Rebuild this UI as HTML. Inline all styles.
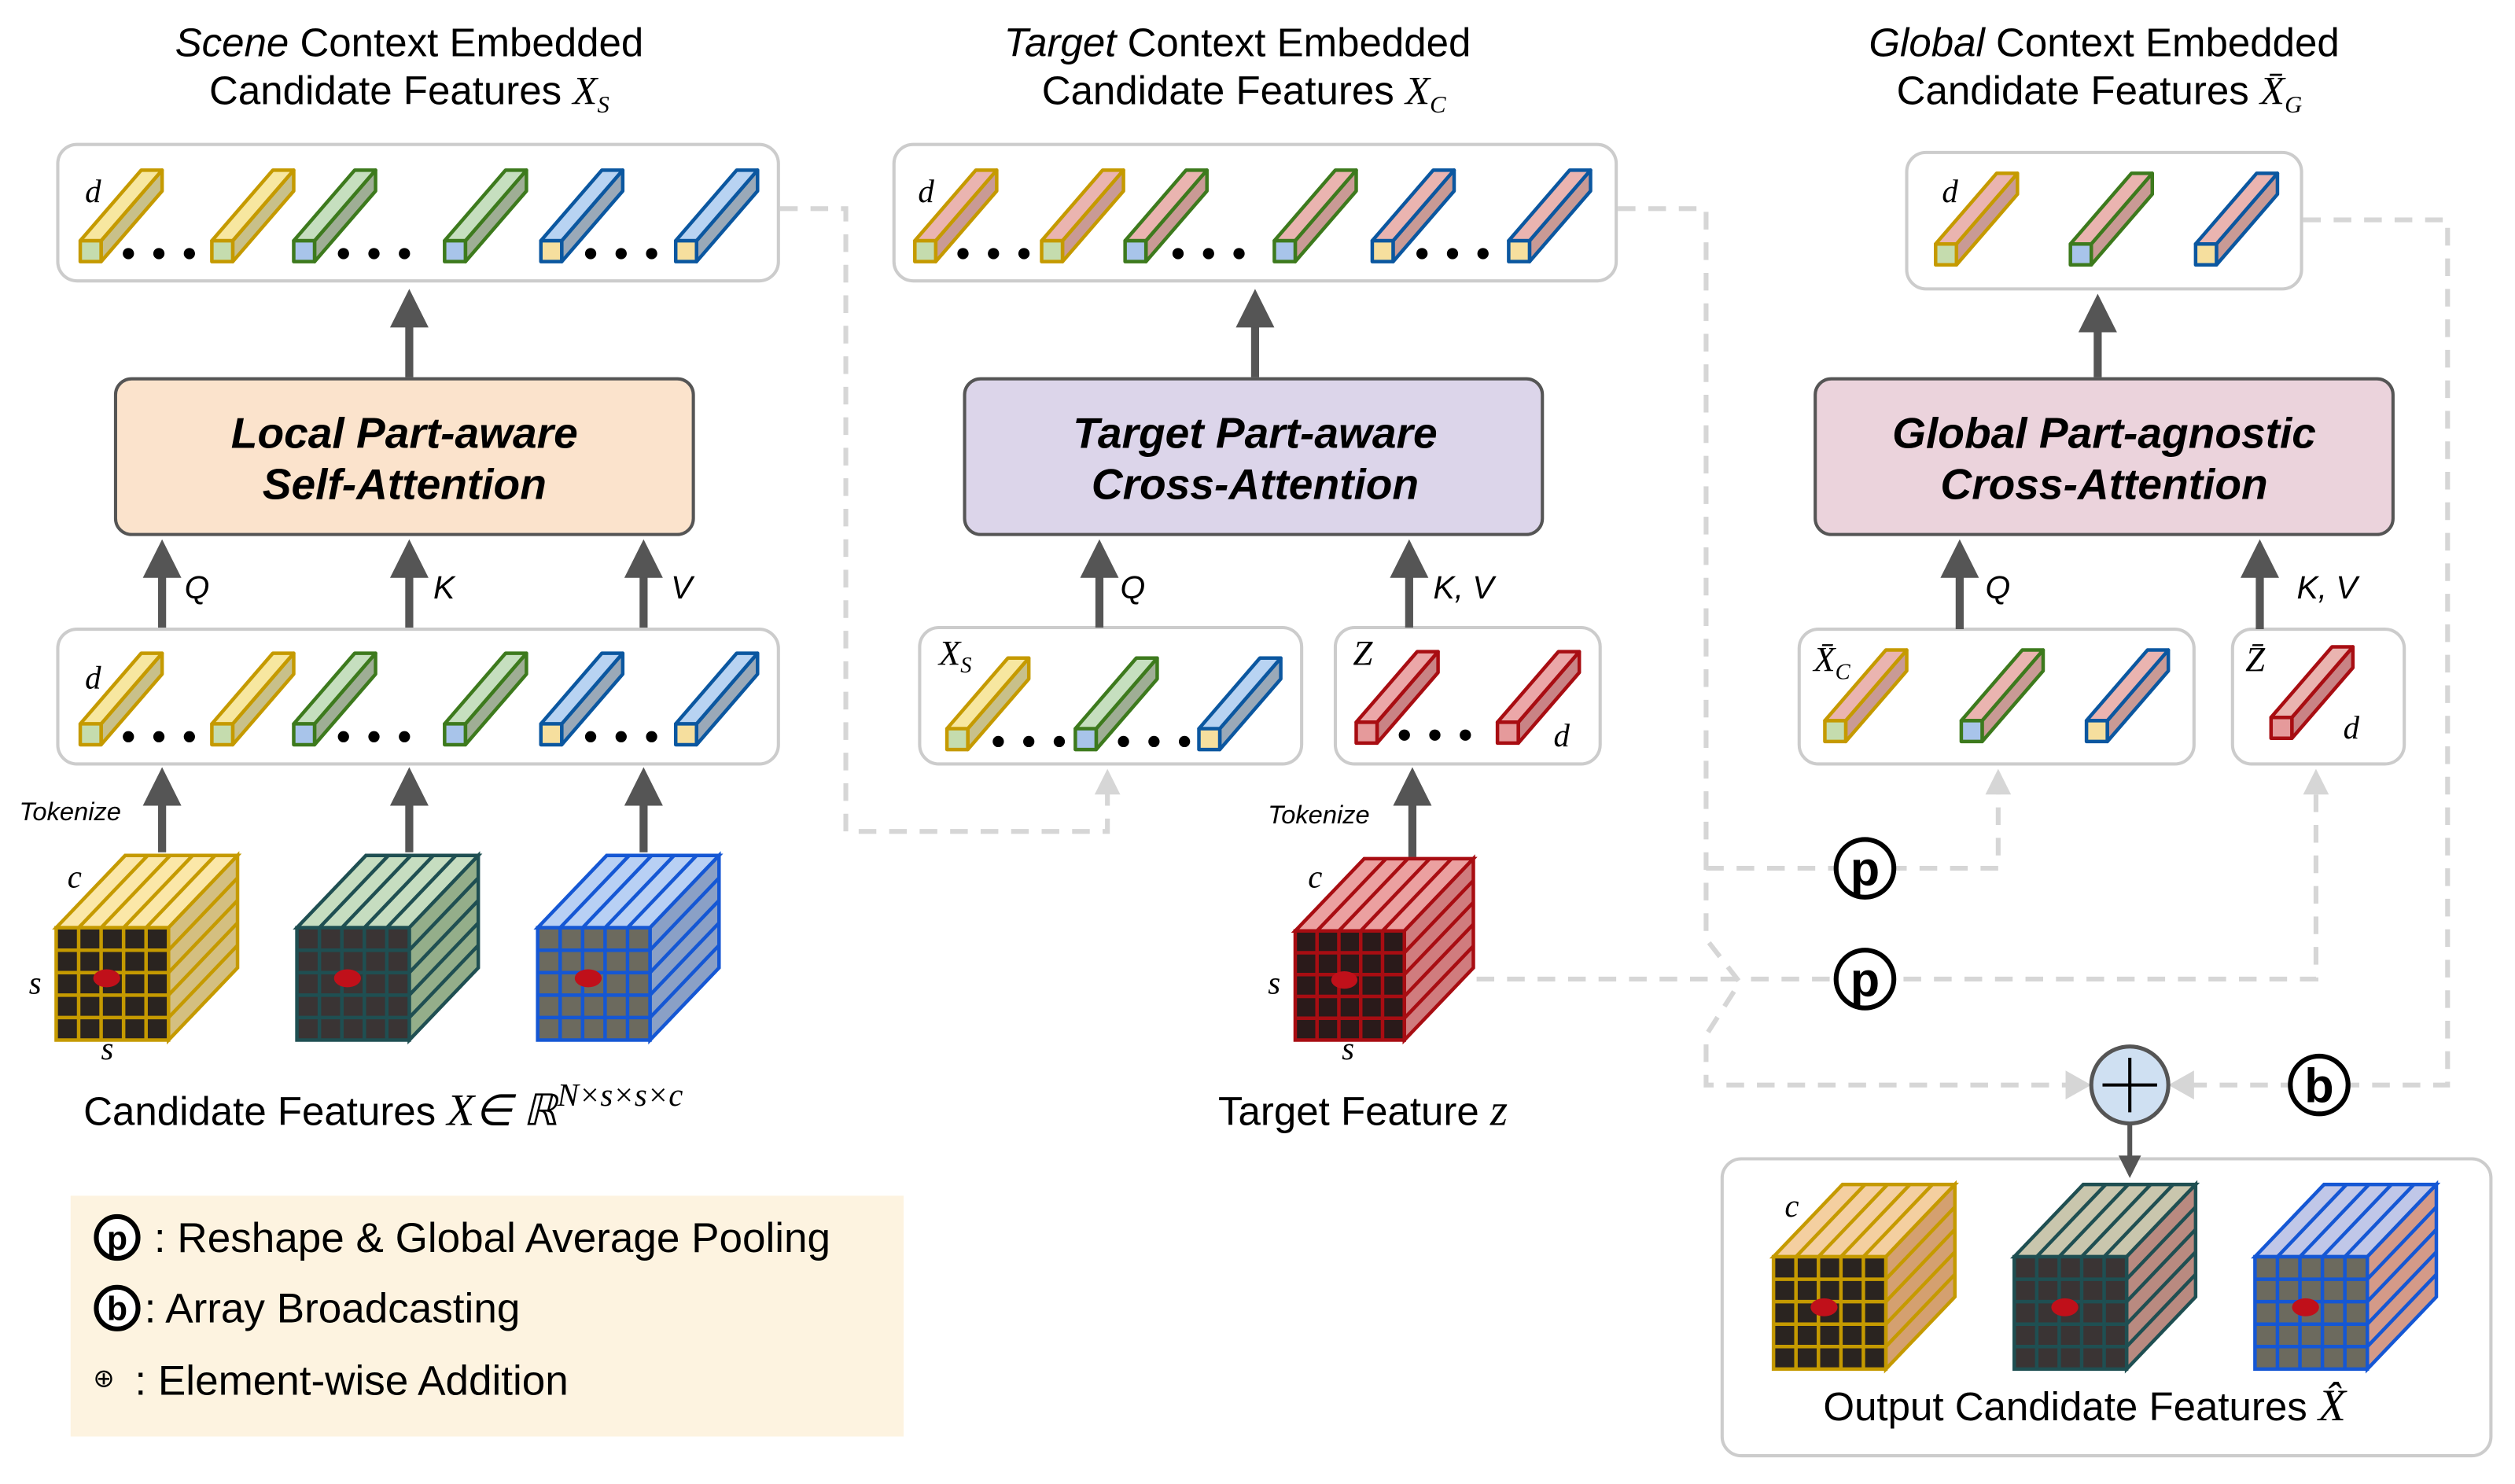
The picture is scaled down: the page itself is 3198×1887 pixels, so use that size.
<!DOCTYPE html>
<html><head><meta charset="utf-8"><style>
html,body{margin:0;padding:0;background:#fff}
svg{display:block}
text{font-family:"Liberation Sans",sans-serif;fill:#000}
.m{font-family:"Liberation Serif",serif;font-style:italic}
.b{font-weight:bold;font-style:italic;font-size:27px;text-anchor:middle}
</style></head><body>
<svg id="s" width="3198" height="1887" viewBox="0 0 1567 924.6" preserveAspectRatio="none" xmlns="http://www.w3.org/2000/svg">
<g id="bg"></g>
<g id="shapes"></g>
<text x="255" y="35" font-size="25" text-anchor="middle"><tspan font-style="italic">Scene</tspan> Context Embedded</text>
<text x="255" y="65" font-size="25" text-anchor="middle">Candidate Features <tspan class="m">X</tspan><tspan class="m" font-size="15" dy="5">S</tspan></text>
<text x="771" y="35" font-size="25" text-anchor="middle"><tspan font-style="italic">Target</tspan> Context Embedded</text>
<text x="775" y="65" font-size="25" text-anchor="middle">Candidate Features <tspan class="m">X</tspan><tspan class="m" font-size="15" dy="5">C</tspan></text>
<text x="1311" y="35" font-size="25" text-anchor="middle"><tspan font-style="italic">Global</tspan> Context Embedded</text>
<text x="1308" y="65" font-size="25" text-anchor="middle">Candidate Features <tspan class="m">X̄</tspan><tspan class="m" font-size="15" dy="5">G</tspan></text>
<text class="b" x="252" y="279">Local Part-aware</text><text class="b" x="252" y="311">Self-Attention</text>
<text class="b" x="782" y="279">Target Part-aware</text><text class="b" x="782" y="311">Cross-Attention</text>
<text class="b" x="1311" y="279">Global Part-agnostic</text><text class="b" x="1311" y="311">Cross-Attention</text>
<g font-size="20" font-style="italic">
<text x="115" y="373">Q</text><text x="270" y="373">K</text><text x="418" y="373">V</text>
<text x="698" y="373">Q</text><text x="893" y="373">K, V</text>
<text x="1237" y="373">Q</text><text x="1431" y="373">K, V</text>
</g>
<g font-size="16" font-style="italic"><text x="12" y="511">Tokenize</text><text x="790" y="513">Tokenize</text></g>
<g>
<text class="m" x="53" y="126" font-size="20" fill="#777">d</text><text class="m" x="572" y="126" font-size="20" fill="#777">d</text><text class="m" x="1210" y="126" font-size="20" fill="#777">d</text>
<text class="m" x="53" y="429" font-size="20" fill="#777">d</text><text class="m" x="968" y="465" font-size="20" fill="#777">d</text><text class="m" x="1460" y="460" font-size="20" fill="#777">d</text>
<text class="m" x="42" y="553" font-size="20" fill="#555">c</text><text class="m" x="18" y="619" font-size="20" fill="#555">s</text><text class="m" x="63" y="660" font-size="20" fill="#555">s</text>
<text class="m" x="815" y="553" font-size="20" fill="#555">c</text><text class="m" x="790" y="619" font-size="20" fill="#555">s</text><text class="m" x="836" y="660" font-size="20" fill="#555">s</text>
<text class="m" x="1112" y="758" font-size="20" fill="#555">c</text>
</g>
<text class="m" x="585" y="414" font-size="22">X<tspan font-size="14" dy="5">S</tspan></text>
<text class="m" x="843" y="414" font-size="22">Z</text>
<text class="m" x="1130" y="418" font-size="22">X̄<tspan font-size="14" dy="5">C</tspan></text>
<text class="m" x="1399" y="418" font-size="22">Z̄</text>
<text x="52" y="701" font-size="25">Candidate Features <tspan class="m" font-size="28">X</tspan><tspan class="m" font-size="27">∈ ℝ</tspan><tspan class="m" font-size="20" dy="-12">N×s×s×c</tspan></text>
<text x="759" y="701" font-size="25">Target Feature <tspan class="m" font-size="28">z</tspan></text>
<text x="1136" y="885" font-size="25">Output Candidate Features <tspan class="m" font-size="28">X̂</tspan></text>
<g font-size="26">
<text x="96" y="780">: Reshape &amp; Global Average Pooling</text>
<text x="90" y="824">: Array Broadcasting</text>
<text x="84" y="869">: Element-wise Addition</text>
<text x="58" y="864" font-size="16">⊕</text>
</g>
<g id="circ"></g>
</svg>
<script>
const NS="http://www.w3.org/2000/svg";
const bg=document.getElementById('bg'),sh=document.getElementById('shapes'),ci=document.getElementById('circ');
function el(p,t,a,txt){const e=document.createElementNS(NS,t);for(const k in a)e.setAttribute(k,a[k]);if(txt)e.textContent=txt;p.appendChild(e);return e;}
function rect(x,y,w,h,a){return el(sh,'rect',Object.assign({x,y,width:w,height:h},a));}
el(bg,'rect',{x:44,y:745,width:519,height:150,fill:'#fdf3e0'});
const D={fill:'none',stroke:'#d6d6d6','stroke-width':3,'stroke-dasharray':'11 8'};
function pl(pts){el(bg,'polyline',Object.assign({points:pts},D));}
pl('486,130 527,130 527,518 690,518 690,494');
pl('1008,130 1063,130 1063,585 1084,612 1063,645 1063,676 1290,676');
pl('1063,541 1245,541 1245,494');
pl('920,610 1443,610 1443,494');
pl('1435,137 1525,137 1525,676 1362,676');
function gtri(x,y,dir){
 let p; if(dir=='u')p=`${x-8},${y+16} ${x},${y} ${x+8},${y+16}`;
 else if(dir=='r')p=`${x-16},${y-9} ${x},${y} ${x-16},${y+9}`;
 else p=`${x+16},${y-9} ${x},${y} ${x+16},${y+9}`;
 el(bg,'polygon',{points:p,fill:'#d6d6d6'});}
gtri(690,479,'u');gtri(1245,479,'u');gtri(1443,479,'u');gtri(1303,676,'r');gtri(1351,676,'l');
const B={fill:'#fff',stroke:'#ccc','stroke-width':2,rx:12};
[[36,90,449,85],[557,90,450,85],[1188,95,246,85],[36,392,449,84],[573,391,238,85],[832,391,165,85],[1121,392,246,84],[1391,392,107,84],[1073,722,479,185]].forEach(b=>rect(b[0],b[1],b[2],b[3],B));
[[72,'#fbe3cc'],[601,'#dcd5ea'],[1131,'#ebd3dc']].forEach(a=>rect(a[0],236,360,97,{fill:a[1],stroke:'#555','stroke-width':2,rx:10}));
function arr(x,y1,y2){el(sh,'line',{x1:x,y1:y1,x2:x,y2:y2+16,stroke:'#555','stroke-width':5});el(sh,'polygon',{points:`${x-12},${y2+24} ${x},${y2} ${x+12},${y2+24}`,fill:'#555'});}
arr(255,235,180);arr(782,235,180);arr(1307,235,183);
[101,255,401].forEach(x=>arr(x,391,336));arr(685,391,336);arr(878,391,336);arr(1221,392,336);arr(1408,392,336);
[101,255,401].forEach(x=>arr(x,531,478));arr(880,534,478);
el(sh,'line',{x1:1327,y1:700,x2:1327,y2:722,stroke:'#555','stroke-width':3});
el(sh,'polygon',{points:'1320,720 1327,734 1334,720',fill:'#555'});
const C={y:['#c59a00','#f7e7a0','#c5dcae'],g:['#3d7a1d','#c6dfbf','#a8c4ea'],b:['#0b57a0','#b8d3f2','#f6df9e'],r:['#a80d12','#eba7a8','#e59a9b']};
function tok(x,y,c,mid){const [s,t,f]=C[c];const w=13,dx=38,dy=-44;
 const g=el(sh,'g',{stroke:s,'stroke-width':2.2,'stroke-linejoin':'round'});
 el(g,'polygon',{points:`${x+w},${y-w} ${x+w+dx},${y-w+dy} ${x+w+dx},${y+dy} ${x+w},${y}`,fill:mid?'#c99a95':'#9fae95'});
 if(!mid&&c=='b')g.lastChild.setAttribute('fill','#9aa9b8');
 if(!mid&&c=='y')g.lastChild.setAttribute('fill','#c8c08a');
 if(c=='r')g.lastChild.setAttribute('fill','#c98385');
 el(g,'polygon',{points:`${x},${y-w} ${x+dx},${y-w+dy} ${x+w+dx},${y-w+dy} ${x+w},${y-w}`,fill:mid?'#eab4b0':t});
 el(g,'rect',{x:x,y:y-w,width:w,height:w,fill:f});}
function dots(x,y,n){for(let i=0;i<n;i++)el(sh,'circle',{cx:x+i*19,cy:y,r:3.5,fill:'#000'});}
[163,464].forEach(y=>{tok(50,y,'y');tok(132,y,'y');tok(183,y,'g');tok(277,y,'g');tok(337,y,'b');tok(421,y,'b');dots(80,y-5,3);dots(214,y-5,3);dots(368,y-5,3);});
tok(570,163,'y',1);tok(649,163,'y',1);tok(701,163,'g',1);tok(794,163,'g',1);tok(855,163,'b',1);tok(940,163,'b',1);dots(600,158,3);dots(734,158,3);dots(886,158,3);
tok(1206,165,'y',1);tok(1290,165,'g',1);tok(1368,165,'b',1);
tok(590,467,'y');tok(670,467,'g');tok(747,467,'b');dots(622,462,3);dots(700,462,3);
tok(845,463,'r');dots(875,458,3);tok(933,463,'r');
tok(1137,462,'y',1);tok(1222,462,'g',1);tok(1300,462,'b',1);tok(1415,460,'r',1);
function cube(x,y,s,top,side,front,sz){sz=sz||70;const dx=43,dy=-45;
 const g=el(sh,'g',{stroke:s,'stroke-width':2.2});
 el(g,'polygon',{points:`${x},${y} ${x+dx},${y+dy} ${x+sz+dx},${y+dy} ${x+sz},${y}`,fill:top});
 el(g,'polygon',{points:`${x+sz},${y} ${x+sz+dx},${y+dy} ${x+sz+dx},${y+sz+dy} ${x+sz},${y+sz}`,fill:side});
 el(g,'rect',{x,y,width:sz,height:sz,fill:front});
 const q=sz/5;
 for(let i=1;i<5;i++){el(g,'line',{x1:x+i*q,y1:y,x2:x+i*q+dx,y2:y+dy});el(g,'line',{x1:x+sz,y1:y+i*q,x2:x+sz+dx,y2:y+i*q+dy});
  el(g,'line',{x1:x+i*q,y1:y,x2:x+i*q,y2:y+sz});el(g,'line',{x1:x,y1:y+i*q,x2:x+sz,y2:y+i*q});}
 el(g,'ellipse',{cx:x+sz*0.45,cy:y+sz*0.45,rx:sz*0.12,ry:sz*0.08,fill:'#c0101a',stroke:'none'});
}
cube(35,578,'#c59a00','#fbe7a8','#d4bf80','#2a2420');
cube(185,578,'#1f4f52','#c6ddc0','#94ae8a','#3a3434');
cube(335,578,'#1557d4','#b8d0f4','#8aa0c6','#6c6a5e');
cube(807,580,'#a80d12','#eba0a0','#d07c7e','#2a1a1a',68);
cube(1105,783,'#c59a00','#f4cfa0','#d4a070','#2a2420');
cube(1255,783,'#1f4f52','#c9c6ad','#b98a80','#3a3434');
cube(1405,783,'#1557d4','#c0c7e8','#d49a88','#6c6a5e');
function cl(x,y,t,r,fs){el(ci,'circle',{cx:x,cy:y,r:r,fill:'#fff',stroke:'#000','stroke-width':3});el(ci,'text',{x:x,y:y+fs*0.36,'font-size':fs,'font-weight':'bold','text-anchor':'middle'},t);}
cl(1162,541,'p',18,30);cl(1162,610,'p',18,30);cl(1445,676,'b',18,30);
cl(73,771,'p',13,21);cl(73,815,'b',13,21);
el(ci,'ellipse',{cx:1327,cy:676,rx:24,ry:24,fill:'#cfe0f2',stroke:'#555','stroke-width':2.5});
el(ci,'line',{x1:1310,y1:676,x2:1344,y2:676,stroke:'#000','stroke-width':2});
el(ci,'line',{x1:1327,y1:659,x2:1327,y2:693,stroke:'#000','stroke-width':2});
</script>
</body></html>
